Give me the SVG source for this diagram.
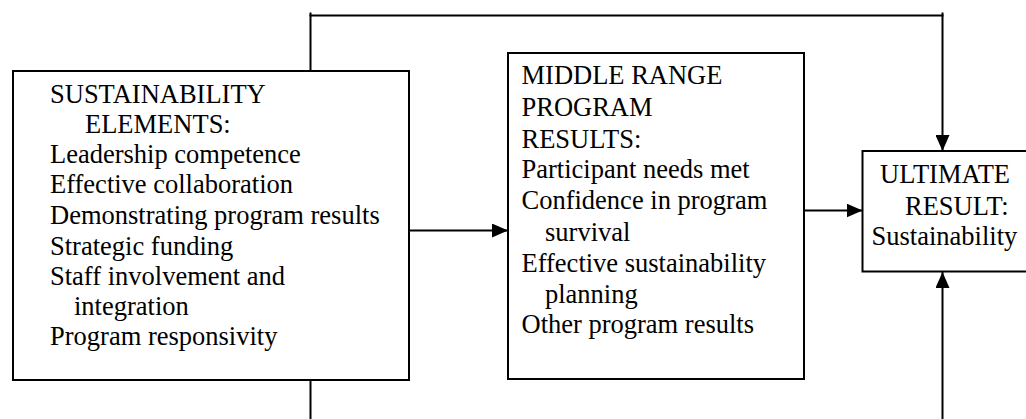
<svg xmlns="http://www.w3.org/2000/svg" width="1026" height="419" viewBox="0 0 1026 419">
  <style>
    .box { fill: #ffffff; stroke: #000000; stroke-width: 2; }
    .wire { fill: none; stroke: #000000; stroke-width: 2; }
    text { font-family: "Liberation Serif", "Times New Roman", serif; font-size: 26.5px; fill: #000000; }
  </style>
  <defs>
    <marker id="arrow" viewBox="0 0 16 14" refX="16" refY="7" markerWidth="16" markerHeight="14" markerUnits="userSpaceOnUse" orient="auto">
      <path d="M0,0 L16,7 L0,14 Z" fill="#000000"/>
    </marker>
  </defs>
  <rect width="1026" height="419" fill="#ffffff"/>

  <!-- connectors -->
  <g id="connectors">
    <!-- feedback loop over the top: elements to ultimate result -->
    <path class="wire" d="M310.5,71 V15.5 H942.5 V151" marker-end="url(#arrow)"/>
    <path class="wire" d="M942.5,12.5 V16.5"/>
    <path class="wire" d="M310.5,12.5 V16.5"/>
    <!-- elements to middle range results -->
    <path class="wire" d="M409,230.5 H508" marker-end="url(#arrow)"/>
    <!-- middle range results to ultimate result -->
    <path class="wire" d="M804,210.5 H862.5" marker-end="url(#arrow)"/>
    <!-- loop from below -->
    <path class="wire" d="M310.5,380 V419"/>
    <path class="wire" d="M942.5,419 V272" marker-end="url(#arrow)"/>
  </g>

  <!-- sustainability elements -->
  <g id="elements">
    <rect class="box" x="13" y="71" width="396" height="309"/>
    <text x="50" y="102.5">SUSTAINABILITY</text>
    <text x="85" y="132.5">ELEMENTS:</text>
    <text x="50" y="163">Leadership competence</text>
    <text x="50" y="193">Effective collaboration</text>
    <text x="50" y="223.5">Demonstrating program results</text>
    <text x="50" y="254.5">Strategic funding</text>
    <text x="50" y="285">Staff involvement and</text>
    <text x="74" y="315">integration</text>
    <text x="50" y="345">Program responsivity</text>
  </g>

  <!-- middle range program results -->
  <g id="middle-results">
    <rect class="box" x="508" y="53" width="296" height="326"/>
    <text x="521.5" y="84">MIDDLE RANGE</text>
    <text x="521.5" y="116">PROGRAM</text>
    <text x="521.5" y="147.5">RESULTS:</text>
    <text x="521.5" y="178">Participant needs met</text>
    <text x="521.5" y="209">Confidence in program</text>
    <text x="545" y="241">survival</text>
    <text x="521.5" y="272">Effective sustainability</text>
    <text x="545" y="303">planning</text>
    <text x="521.5" y="333">Other program results</text>
  </g>

  <!-- ultimate result -->
  <g id="ultimate-result">
    <rect class="box" x="862.5" y="151" width="170" height="120.5"/>
    <text x="880" y="183">ULTIMATE</text>
    <text x="905" y="214.5">RESULT:</text>
    <text x="871.5" y="245">Sustainability</text>
  </g>
</svg>
